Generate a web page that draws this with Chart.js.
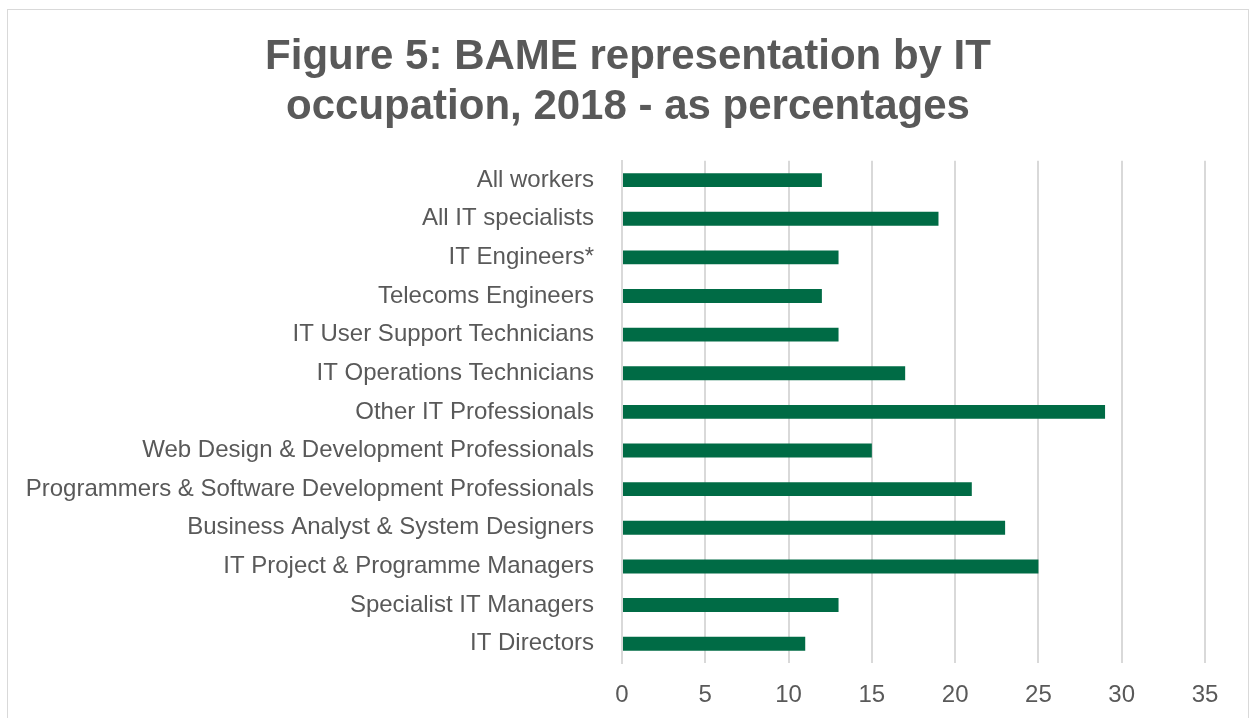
<!DOCTYPE html>
<html>
<head>
<meta charset="utf-8">
<script src="https://cdn.jsdelivr.net/npm/chart.js@4/dist/chart.umd.min.js"></script>
<style>
    html, body { margin: 0; padding: 0; background: #ffffff; overflow: hidden; }
    #wrap {
        position: absolute;
        left: 7px;
        top: 9px;
        width: 1240px;
        height: 720px;
        border: 1px solid #d9d9d9;
        background: #ffffff;
    }
</style>
</head>
<body>
<div id="wrap"><canvas id="grafico"></canvas></div>
<script>
const occupations = [
    'All workers',
    'All IT specialists',
    'IT Engineers*',
    'Telecoms Engineers',
    'IT User Support Technicians',
    'IT Operations Technicians',
    'Other IT Professionals',
    'Web Design & Development Professionals',
    'Programmers & Software Development Professionals',
    'Business Analyst & System Designers',
    'IT Project & Programme Managers',
    'Specialist IT Managers',
    'IT Directors'
];
const bamePercent = [12, 19, 13, 12, 13, 17, 29, 15, 21, 23, 25, 13, 11];
const xTicks = [0, 5, 10, 15, 20, 25, 30, 35];

const fontFamily = "'Liberation Sans', Arial, sans-serif";
const textGrey = '#595959';
const gridGrey = '#d9d9d9';

// the longest category label reaches past the left padding, so do not clip it
const noLabelClip = {
    id: 'noLabelClip',
    afterLayout(chart) {
        chart.scales.y._computeLabelArea = () => undefined;
    }
};

function criarGrafico() {
    const ctx = document.getElementById('grafico');
    return new Chart(ctx, {
        type: 'bar',
        data: {
            labels: occupations,
            datasets: [{
                label: 'BAME %',
                data: bamePercent,
                backgroundColor: '#006b45',
                borderWidth: 0,
                barPercentage: 0.36,
                categoryPercentage: 1
            }]
        },
        options: {
            indexAxis: 'y',
            responsive: true,
            maintainAspectRatio: false,
            animation: false,
            layout: {
                padding: { left: 43, right: 43, top: 0, bottom: 0 }
            },
            scales: {
                x: {
                    min: xTicks[0],
                    max: xTicks[xTicks.length - 1],
                    afterBuildTicks: (axis) => {
                        axis.ticks = xTicks.map((v) => ({ value: v }));
                    },
                    afterFit: (axis) => { axis.height = 67; },
                    grid: { color: gridGrey, lineWidth: 2, drawTicks: false },
                    border: { display: false },
                    ticks: {
                        color: textGrey,
                        padding: 18,
                        maxRotation: 0,
                        font: { size: 24, family: fontFamily }
                    }
                },
                y: {
                    afterFit: (axis) => { axis.width = 571; },
                    grid: { display: false, drawTicks: false },
                    border: { display: true, color: gridGrey, width: 2 },
                    ticks: {
                        color: textGrey,
                        padding: 28,
                        autoSkip: false,
                        font: { size: 24, family: fontFamily }
                    }
                }
            },
            plugins: {
                legend: { display: false },
                tooltip: { enabled: false },
                title: {
                    display: true,
                    text: ['Figure 5: BAME representation by IT', 'occupation, 2018 - as percentages'],
                    color: textGrey,
                    padding: { top: 22, bottom: 28 },
                    font: { size: 42, weight: 'bold', family: fontFamily, lineHeight: 1.2 }
                }
            }
        },
        plugins: [noLabelClip]
    });
}

criarGrafico();
</script>
</body>
</html>
